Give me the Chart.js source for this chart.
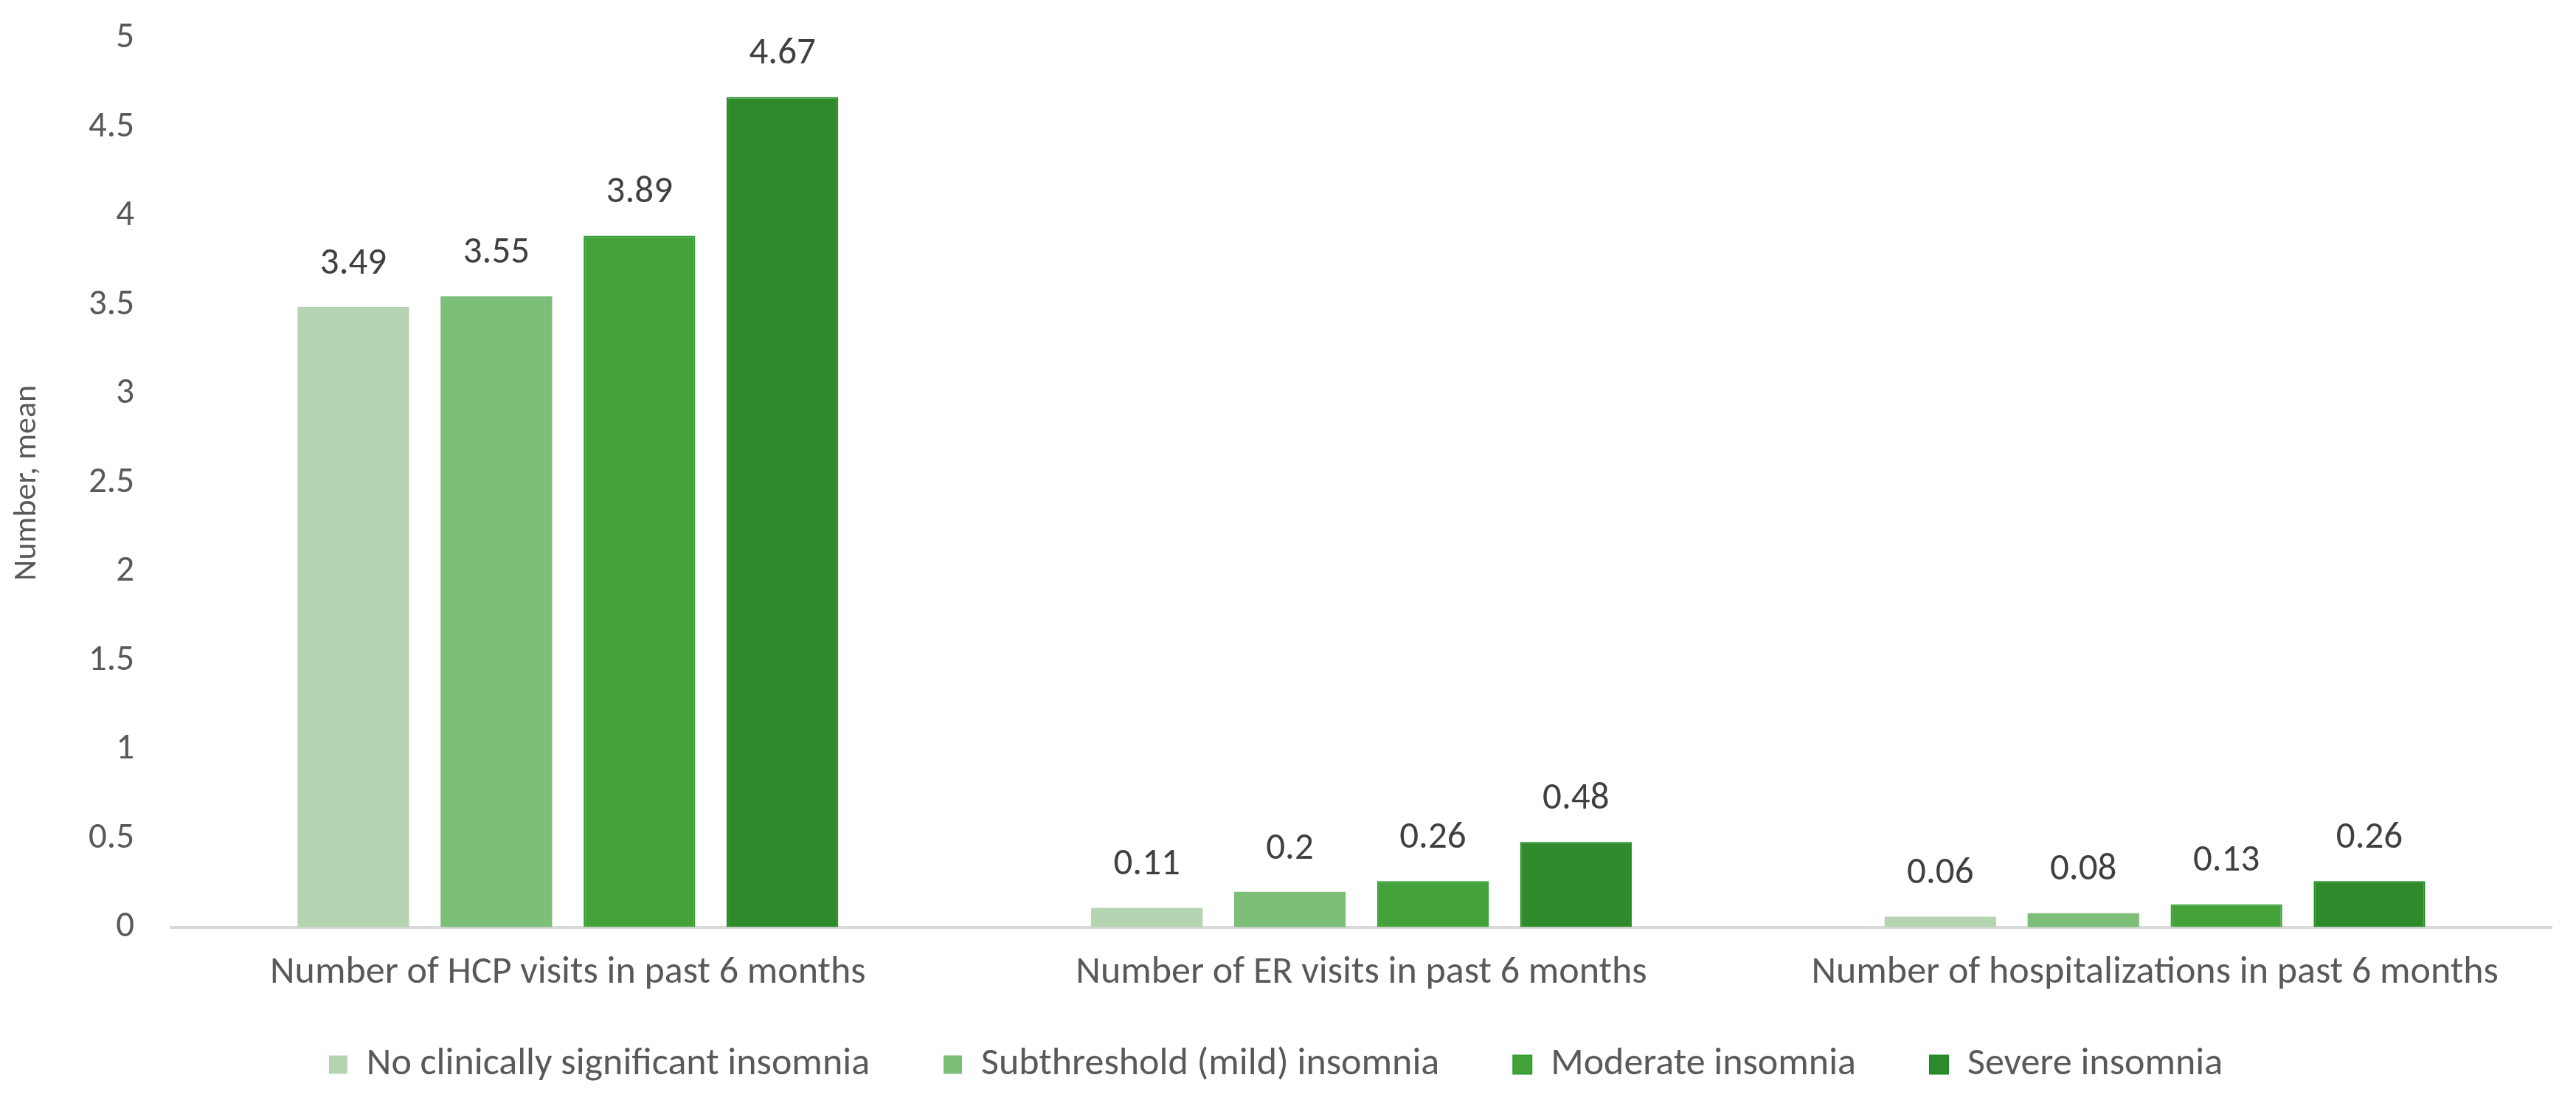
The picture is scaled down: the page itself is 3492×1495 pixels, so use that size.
<!DOCTYPE html>
<html>
<head>
<meta charset="utf-8">
<title>Healthcare resource use by insomnia severity</title>
<script src="https://cdn.jsdelivr.net/npm/chart.js@4.4.1/dist/chart.umd.min.js"></script>
<style>
    html, body { margin: 0; padding: 0; background: #fff; }
    #wrap { width: 3492px; height: 1495px; }
</style>
</head>
<body>
<div id="wrap"><canvas id="chartUse"></canvas></div>
<script>
// Data
const categories = [
    'Number of HCP visits in past 6 months',
    'Number of ER visits in past 6 months',
    'Number of hospitalizations in past 6 months'
];
const seriesNames = [
    'No clinically significant insomnia',
    'Subthreshold (mild) insomnia',
    'Moderate insomnia',
    'Severe insomnia'
];
const noInsomnia = [3.49, 0.11, 0.06];
const mildInsomnia = [3.55, 0.2, 0.08];
const moderateInsomnia = [3.89, 0.26, 0.13];
const severeInsomnia = [4.67, 0.48, 0.26];
const yTicks = [0, 0.5, 1, 1.5, 2, 2.5, 3, 3.5, 4, 4.5, 5];

const FONT = 'Carlito, Calibri, Lato, "Open Sans", sans-serif';
const fills = ['#b5d5b2', '#7dbe78', '#43a23a', '#2f8a2b'];
const edges = ['#b5d5b2', '#7dbe78', '#2e9e2e', '#1f8a1f'];

// Value labels above each bar (no datalabels plugin available offline)
const barValues = {
    id: 'barValues',
    afterDatasetsDraw(chart) {
        const ctx = chart.ctx;
        ctx.save();
        ctx.font = '51px ' + FONT;
        ctx.fillStyle = '#404040';
        ctx.textAlign = 'center';
        ctx.textBaseline = 'middle';
        chart.data.datasets.forEach((ds, i) => {
            chart.getDatasetMeta(i).data.forEach((bar, j) => {
                ctx.fillText(String(ds.data[j]), bar.x, bar.y - 58);
            });
        });
        ctx.restore();
    }
};

// Legend: wide gaps between items, but a short box sitting just under the axis labels
const legendBox = {
    id: 'legendBox',
    beforeInit(chart) {
        const fit = chart.legend.fit;
        chart.legend.fit = function () {
            fit.bind(chart.legend)();
            this.height = 128;
        };
    },
    afterLayout(chart) {
        chart.legend.top -= 50;
    }
};

const seriesData = [noInsomnia, mildInsomnia, moderateInsomnia, severeInsomnia];

new Chart(document.getElementById('chartUse'), {
    type: 'bar',
    data: {
        labels: categories,
        datasets: seriesNames.map((name, i) => ({
            label: name,
            data: seriesData[i],
            backgroundColor: fills[i],
            borderColor: edges[i],
            borderWidth: i < 2 ? 0 : 2,
            borderSkipped: 'bottom',
            categoryPercentage: 0.721,
            barPercentage: 0.78
        }))
    },
    options: {
        responsive: true,
        maintainAspectRatio: false,
        animation: false,
        devicePixelRatio: 1,
        layout: { padding: { top: 52, right: 33, bottom: 0, left: 0 } },
        plugins: {
            legend: {
                position: 'bottom',
                labels: {
                    boxWidth: 25,
                    boxHeight: 25,
                    padding: 100,
                    color: '#595959',
                    font: { family: FONT, size: 52 }
                }
            },
            tooltip: { enabled: false }
        },
        scales: {
            x: {
                grid: { display: false, drawTicks: false },
                border: { display: true, color: '#d9d9d9', width: 4 },
                ticks: {
                    padding: 31,
                    color: '#595959',
                    font: { family: FONT, size: 52 },
                    maxRotation: 0
                },
                afterFit(scale) { scale.height = 110; }
            },
            y: {
                min: 0,
                max: 5,
                afterBuildTicks(scale) {
                    scale.ticks = yTicks.map(v => ({ value: v }));
                },
                // invisible tick marks give the label gap without padding the top
                grid: {
                    display: true,
                    drawOnChartArea: false,
                    drawTicks: true,
                    tickLength: 50,
                    tickColor: 'rgba(0,0,0,0)',
                    color: 'rgba(0,0,0,0)'
                },
                border: { display: false },
                ticks: {
                    padding: 0,
                    color: '#595959',
                    font: { family: FONT, size: 49 },
                    callback: v => String(v)
                },
                title: {
                    display: true,
                    text: 'Number, mean',
                    color: '#595959',
                    font: { family: FONT, size: 44 },
                    padding: { top: 11, bottom: 0 }
                },
                afterFit(scale) { scale.width = 232; }
            }
        }
    },
    plugins: [barValues, legendBox]
});
</script>
</body>
</html>
